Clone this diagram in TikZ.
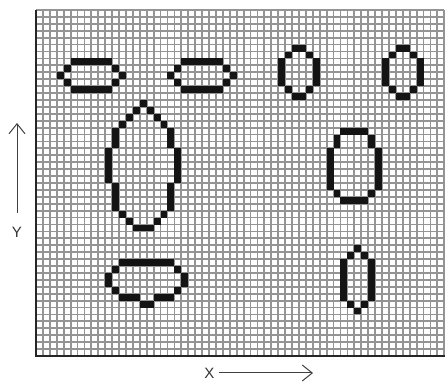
\documentclass[tikz,border=0pt]{standalone}
\usepackage{fontspec}
\setmainfont{Liberation Sans}
\usetikzlibrary{arrows.meta}
\tikzset{
  gridline/.style={draw=black!42, line width=1.8pt},
  framel/.style={draw=black!85, line width=2.6pt},
  pixel/.style={fill=black!92},
  axisarrow/.style={draw=black!75, line width=1pt, -{Straight Barb[length=10pt,width=16pt,line width=1pt]}},
  axislabel/.style={inner sep=0pt, font=\fontsize{15}{15}\selectfont, text=black!80}
}
\newcommand\pxl[2]{\fill[pixel] (#1,#2) rectangle +(1,1);}
\newcommand\pxrow[3]{\foreach \cc in {#1,...,#2} {\pxl{\cc}{#3}}}
\begin{document}
\begin{tikzpicture}[x=1pt,y=-1pt]
\useasboundingbox (0,0) rectangle (445,382);
\fill[white] (0,0) rectangle (445,382);
\begin{scope}[shift={(36,10)}, x=6.92pt, y=-6.92pt]
  % grid
  \foreach \i in {0,...,59} {\draw[gridline] (\i,0) -- (\i,50);}
  \foreach \j in {0,...,50} {\draw[gridline] (0,\j) -- (59,\j);}
  % frame
  \draw[framel] (0,0) -- (0,50) -- (59.3,50);
  % shape 1
  \pxrow{5}{10}{7} \pxl{4}{8} \pxl{11}{8} \pxl{3}{9} \pxl{12}{9}
  \pxl{4}{10} \pxl{11}{10} \pxrow{5}{10}{11}
  % shape 2
  \pxrow{21}{26}{7} \pxl{20}{8} \pxl{27}{8} \pxl{19}{9} \pxl{28}{9}
  \pxl{20}{10} \pxl{27}{10} \pxrow{21}{26}{11}
  % shape 3
  \pxrow{37}{38}{5} \pxl{36}{6} \pxl{39}{6}
  \foreach \r in {7,...,10} {\pxl{35}{\r} \pxl{40}{\r}}
  \pxl{36}{11} \pxl{39}{11} \pxrow{37}{38}{12}
  % shape 4
  \pxrow{52}{53}{5} \pxl{51}{6} \pxl{54}{6}
  \foreach \r in {7,...,10} {\pxl{50}{\r} \pxl{55}{\r}}
  \pxl{51}{11} \pxl{54}{11} \pxrow{52}{53}{12}
  % shape 5
  \pxl{15}{13} \pxl{14}{14} \pxl{16}{14} \pxl{13}{15} \pxl{17}{15}
  \pxl{12}{16} \pxl{18}{16}
  \foreach \r in {17,...,19} {\pxl{11}{\r} \pxl{19}{\r}}
  \foreach \r in {20,...,24} {\pxl{10}{\r} \pxl{20}{\r}}
  \foreach \r in {25,...,28} {\pxl{11}{\r} \pxl{19}{\r}}
  \pxl{12}{29} \pxl{18}{29} \pxl{13}{30} \pxl{17}{30} \pxrow{14}{16}{31}
  % shape 6
  \pxrow{44}{47}{17}
  \foreach \r in {18,19} {\pxl{43}{\r} \pxl{48}{\r}}
  \foreach \r in {20,...,25} {\pxl{42}{\r} \pxl{49}{\r}}
  \pxl{43}{26} \pxl{48}{26} \pxrow{44}{47}{27}
  % shape 7
  \pxl{46}{34} \pxl{45}{35} \pxl{47}{35}
  \foreach \r in {36,...,41} {\pxl{44}{\r} \pxl{48}{\r}}
  \pxl{45}{42} \pxl{47}{42} \pxl{46}{43}
  % shape 8
  \pxrow{12}{19}{36} \pxl{11}{37} \pxl{20}{37}
  \foreach \r in {38,39} {\pxl{10}{\r} \pxl{21}{\r}}
  \pxl{11}{40} \pxl{20}{40}
  \pxrow{12}{14}{41} \pxrow{17}{19}{41} \pxrow{15}{16}{42}
\end{scope}
% axes
\node[axislabel] (ylab) at (17,232) {Y};
\coordinate (ytip) at (17,123);
\draw[axisarrow] (17,213) -- (ytip);
\node[axislabel] (xlab) at (209.5,373) {X};
\coordinate (xtip) at (313,373);
\draw[axisarrow] (xlab.east) ++(4,0) -- (xtip);
\end{tikzpicture}
\end{document}
